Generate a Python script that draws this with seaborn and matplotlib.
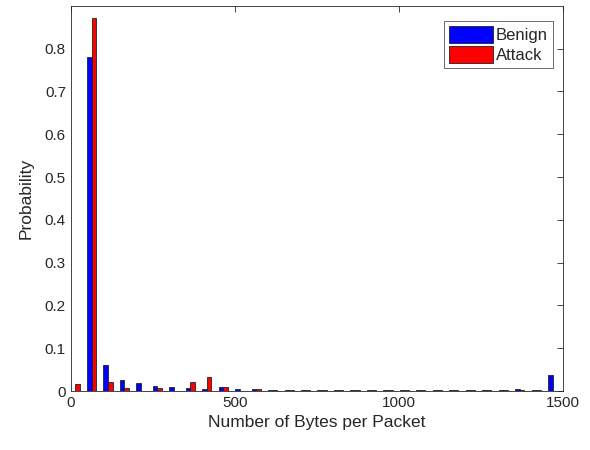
import matplotlib
matplotlib.use("Agg")
import matplotlib.pyplot as plt
from matplotlib.patches import Patch
import numpy as np
import pandas as pd
import seaborn as sns

# bin centres (bytes) and the probability per bin for each class
bin_centers = [13 + 50.2 * k for k in range(30)]
benign = [0.0, 0.781, 0.061, 0.026, 0.019, 0.012, 0.009, 0.006, 0.004, 0.009,
          0.005, 0.004, 0.002, 0.002, 0.002, 0.002, 0.002, 0.002, 0.002, 0.002,
          0.002, 0.002, 0.002, 0.002, 0.002, 0.002, 0.002, 0.004, 0.002, 0.037]
attack = [0.016, 0.872, 0.020, 0.006, 0.001, 0.006, 0.001, 0.022, 0.033, 0.009,
          0.001, 0.004, 0.002, 0.002, 0.002, 0.002, 0.002, 0.002, 0.002, 0.002,
          0.002, 0.002, 0.002, 0.002, 0.002, 0.002, 0.002, 0.002, 0.003, 0.0]
classes = ["Benign", "Attack"]
colors = {"Benign": "#0000ff", "Attack": "#ff0000"}

df = pd.DataFrame({
    "bytes": bin_centers * 2,
    "prob": benign + attack,
    "type": ["Benign"] * 30 + ["Attack"] * 30,
})
edges = [c - 25.1 for c in bin_centers] + [bin_centers[-1] + 25.1]

sns.set_style("white")
plt.rcParams["font.family"] = ["Liberation Sans", "DejaVu Sans"]

fig = plt.figure(figsize=(5.9, 4.5), dpi=100)
ax = fig.add_axes([0.120, 0.131, 0.834, 0.856])

sns.histplot(data=df, x="bytes", weights="prob", hue="type", hue_order=classes,
             bins=edges, multiple="dodge", shrink=0.56, palette=colors,
             alpha=1, edgecolor="#222222", linewidth=0.6, legend=False, ax=ax)

ax.set_xlim(0, 1500)
ax.set_ylim(0, 0.9)
ax.set_xticks([0, 500, 1000, 1500])
ax.set_yticks(np.arange(0, 0.81, 0.1))
ax.set_yticklabels(["0", "0.1", "0.2", "0.3", "0.4", "0.5", "0.6", "0.7", "0.8"])
ax.set_xlabel("Number of Bytes per Packet", fontsize=12.5, color="#262626")
ax.set_ylabel("Probability", fontsize=12.5, color="#262626", labelpad=8)
ax.tick_params(direction="in", top=True, right=True, length=4, width=0.6,
               labelsize=11, colors="#262626")
for s in ax.spines.values():
    s.set_color("#262626")
    s.set_linewidth(0.6)

handles = [Patch(facecolor=colors[c], edgecolor="#222222", linewidth=0.6, label=c)
           for c in classes]
leg = ax.legend(handles=handles, loc="upper right", bbox_to_anchor=(0.98, 0.96),
                fontsize=12, frameon=True, fancybox=False, edgecolor="#262626",
                handlelength=2.6, handleheight=1.2, handletextpad=0.2,
                borderpad=0.3, labelspacing=0.15, borderaxespad=0.0)
leg.get_frame().set_linewidth(0.6)

fig.savefig("out.png", dpi=100)
